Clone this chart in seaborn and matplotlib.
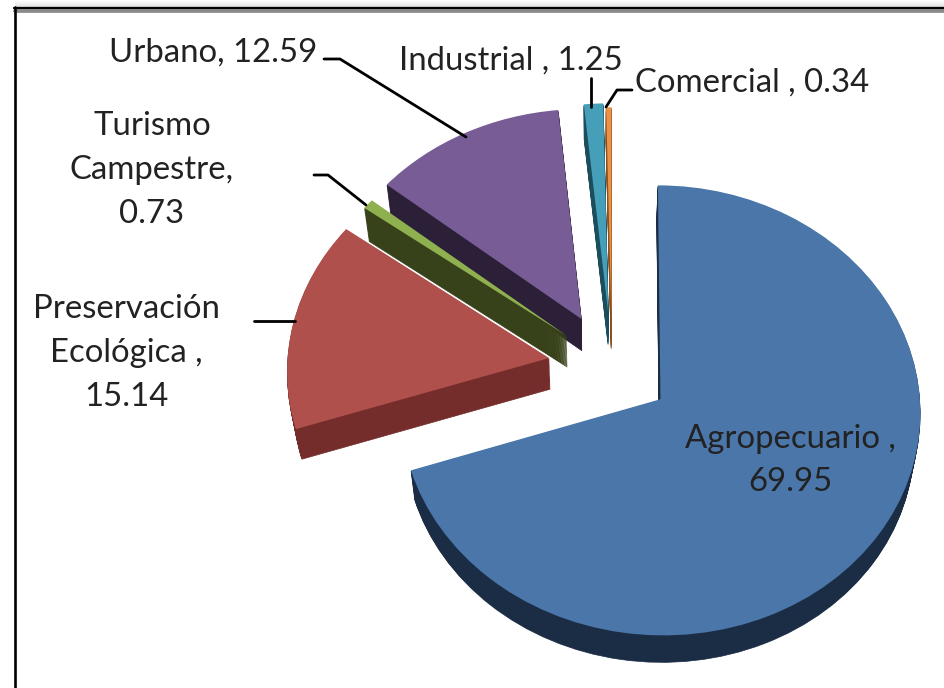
import numpy as np
import matplotlib
matplotlib.use("Agg")
import matplotlib.pyplot as plt
import matplotlib.transforms as mtransforms
from matplotlib.lines import Line2D
import seaborn as sns

categories = ["Agropecuario", "Preservación Ecológica", "Turismo Campestre", "Urbano", "Industrial", "Comercial"]
values = [69.95, 15.14, 0.73, 12.59, 1.25, 0.34]
label_texts = ["Agropecuario ,\n69.95", "Preservación\nEcológica ,\n15.14", "Turismo\nCampestre,\n0.73",
               "Urbano, 12.59", "Industrial , 1.25", "Comercial , 0.34"]
top_colors = ["#4a76aa", "#b0504c", "#8fb04f", "#785c96", "#459fb9", "#ea9346"]
side_colors = ["#1b2d45", "#742d2b", "#38421a", "#2b2038", "#1c4d5c", "#8a5020"]

explode = [0.25, 0.224, 0.23, 0.24, 0.24, 0.22]
nudge_px = [(0, 0), (0, 0), (7, -1), (4, 0), (5, 0), (5, 0)]
radius_scale = [0.983, 1, 1, 1, 1, 1]
stack_order = [5, 4, 3, 2, 1, 0]   # zorder rank per slice (Agropecuario in front)
depth_px = 29
W, H = 944, 688

sns.set_theme(style="white")
plt.rcParams["font.family"] = ["Lato", "DejaVu Sans"]


class Perspective(mtransforms.Transform):
    input_dims = output_dims = 2
    is_affine = False
    has_inverse = False

    def __init__(self, k):
        super().__init__()
        self.k = k

    def transform_non_affine(self, values):
        v = np.asarray(values, dtype=float)
        s = 1 + self.k * v[:, 1]
        return np.column_stack([v[:, 0] / s, v[:, 1] / s])


fig = plt.figure(figsize=(W / 100, H / 100), dpi=100, facecolor="white")
ax = fig.add_axes([0, 0, 1, 1])
persp = Perspective(0.05)
VX, VY = 600, H - 500


def draw_pie(colors, drop, bump, edge):
    wedges, _ = ax.pie(values, explode=explode, colors=colors, startangle=90, counterclock=False,
                       radius=1.0, center=(0, 0), wedgeprops=dict(linewidth=0))
    frac = drop / depth_px
    for i, w in enumerate(wedges):
        cx, cy = w.center
        own = mtransforms.Affine2D().translate(-cx, -cy).scale(radius_scale[i]).translate(cx, cy)
        shrink = (mtransforms.Affine2D().translate(-VX, -VY)
                  .scale(1 - 0.02 * frac, 1 - 0.015 * frac).translate(VX, VY - drop))
        w.set_transform(own + persp + ax.transData
                        + mtransforms.Affine2D().translate(*nudge_px[i]) + shrink)
        w.set_zorder(stack_order[i] * 2 + 2 + bump)
        w.set_clip_on(False)
        if edge:
            w.set_edgecolor(colors[i])
            w.set_linewidth(0.5)


for d in range(depth_px, 0, -1):
    draw_pie(side_colors, d, (depth_px - d) * 0.01, True)
draw_pie(top_colors, 0, 1.0, False)

ax.set_aspect("auto")
ax.set_xlim(-607 / 262, (W - 607) / 262)
ax.set_ylim((366 - H) / 225, 366 / 225)
ax.set_axis_off()

# pixel coordinates of the picture (y down)
T = mtransforms.Affine2D().scale(1, -1).translate(0, H)

text_pos = [(790, 460.5), (126, 353), (152, 170), (213, 52.5), (511, 61), (752, 82.5)]
for txt, (x, y) in zip(label_texts, text_pos):
    fig.text(x, y, txt, transform=T, ha="center", va="center", multialignment="center",
             fontsize=23.7, color="#222222", linespacing=1.57, zorder=30)

leaders = [
    ([324, 340, 466], [59, 59, 137]),
    ([314, 328, 366], [175, 175, 205]),
    ([254, 295], [321, 321]),
    ([591, 591], [78, 107]),
    ([632, 617, 606], [90, 90, 107]),
]
for xs, ys in leaders:
    fig.add_artist(Line2D(xs, ys, transform=T, color="black", lw=2.0, zorder=25))

# frame with its soft shadow
for y, c in zip(range(0, 7), ["#fbfbfb", "#f7f7f7", "#f3f3f3", "#eeeeee", "#e8e8e8", "#e0e0e0", "#d6d6d6"]):
    fig.add_artist(Line2D([15, W], [y + 0.5, y + 0.5], transform=T, color=c, lw=0.8, zorder=24))
fig.add_artist(Line2D([15, W], [11.2, 11.2], transform=T, color="#8a8a8a", lw=2.7, zorder=26))
fig.add_artist(Line2D([15.4, 15.4], [H, 7.3], transform=T, color="black", lw=1.9, zorder=27))
fig.add_artist(Line2D([14, W], [8.4, 8.4], transform=T, color="black", lw=1.6, zorder=27))

fig.savefig("out.png", dpi=100)
